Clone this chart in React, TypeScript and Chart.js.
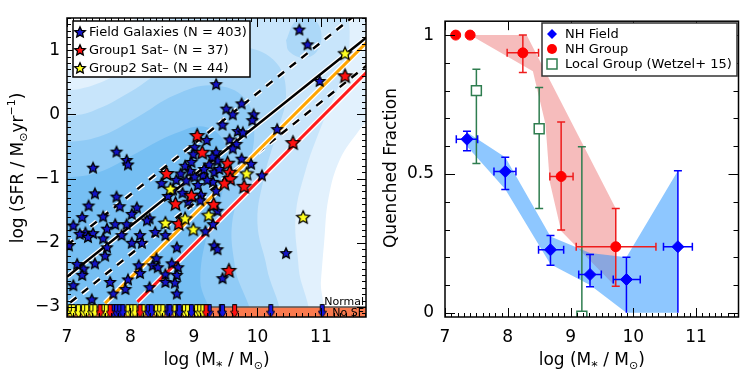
import React, { useEffect, useRef } from "react";
import { Chart, registerables } from "chart.js";
Chart.register(...registerables);

const FONT = "'DejaVu Sans', 'Liberation Sans', sans-serif";

// ---------------- Left panel data ----------------
const xTicksLeft = [7, 8, 9, 10, 11];
const yTicksLeft = [-3, -2, -1, 0, 1];

const fieldStars: number[][] = [
  [9.35, 0.47], [10.66, 1.32], [10.79, 1.09], [10.98, 0.52],
  [9.75, 0.17], [9.51, 0.09], [9.61, 0.0], [9.94, 0.0], [9.92, -0.09], [9.45, -0.16],
  [10.31, -0.23], [9.69, -0.26], [9.77, -0.28], [9.56, -0.39], [9.67, -0.46], [9.61, -0.53],
  [9.2, -0.4], [9.01, -0.51], [8.99, -0.62], [9.35, -0.59], [9.37, -0.72], [9.29, -0.66],
  [9.75, -0.69], [9.9, -0.77], [10.07, -0.95], [9.32, -0.9], [9.3, -1.05], [9.35, -1.19],
  [9.4, -0.85], [9.24, -0.78], [9.14, -0.95], [8.94, -0.88],
  [7.78, -0.58], [7.94, -0.71], [7.96, -0.78], [7.41, -0.83], [7.44, -1.23], [7.78, -1.28],
  [7.34, -1.42], [7.83, -1.43], [8.1, -1.45], [8.49, -1.07], [8.79, -0.92], [8.88, -1.03],
  [9.01, -0.97], [8.72, -1.02], [8.86, -0.8], [8.67, -1.17], [8.59, -1.27], [8.82, -1.22],
  [9.06, -1.1], [9.16, -0.85], [9.11, -1.25], [8.91, -1.36], [9.21, -1.02], [8.96, -0.74],
  [7.24, -1.6], [7.57, -1.59], [7.1, -1.73], [7.29, -1.84], [7.41, -1.85], [7.33, -1.91],
  [7.2, -1.86], [7.63, -1.78], [7.76, -1.71], [7.94, -1.71], [7.57, -1.93], [7.86, -1.88],
  [8.02, -1.55], [8.3, -1.62], [8.15, -1.88], [8.02, -2.0], [8.18, -2.0], [8.39, -1.83],
  [8.55, -1.88], [9.18, -1.82], [9.3, -1.71], [8.73, -2.07], [7.63, -2.07], [7.6, -2.2],
  [7.26, -2.4], [7.24, -2.5], [7.44, -2.32], [7.1, -2.66], [7.68, -2.61], [7.39, -2.88],
  [7.73, -2.79], [7.92, -2.72], [7.96, -2.57], [8.13, -2.35], [8.15, -2.47], [8.35, -2.35],
  [8.41, -2.24], [8.43, -2.38], [8.65, -2.32], [8.75, -2.38], [8.55, -2.49], [8.73, -2.5],
  [8.55, -2.61], [8.3, -2.69], [8.73, -2.79], [8.7, -2.62], [7.03, -2.04], [7.16, -2.33],
  [8.26, -1.65], [9.32, -2.04], [9.37, -2.1], [9.45, -2.55], [9.1, -1.34], [9.37, -1.5],
  [10.45, -2.16],
];
const group1Stars: number[][] = [
  [9.05, -0.33], [9.13, -0.59], [8.57, -0.92], [9.53, -0.76], [9.56, -0.9], [9.57, -1.0],
  [9.48, -1.07], [9.79, -1.12], [8.96, -1.26], [8.71, -1.39], [9.31, -1.4], [8.76, -1.7],
  [10.56, -0.44], [11.38, 0.6], [9.55, -2.43],
];
const group2Stars: number[][] = [
  [9.83, -0.92], [8.63, -1.16], [8.55, -1.69], [8.86, -1.62], [8.99, -1.79], [9.23, -1.57],
  [11.38, 0.95], [10.72, -1.6],
];
// galaxies with no star formation (upper limits drawn in the "No SF" strip)
const fieldNoSF = [7.73, 7.78, 7.83, 7.88, 8.28, 8.33, 8.59, 8.62, 8.75, 8.77, 8.96, 9.24, 9.43, 9.45, 10.21, 11.02];
const group1NoSF = [7.52, 7.68, 8.15, 9.19, 9.64];
const group2NoSF = [7.05, 7.1, 7.18, 7.26, 7.31, 7.39, 7.44, 7.57, 7.62, 7.96, 8.02, 8.07, 8.2, 8.41, 8.46, 8.51, 8.7, 8.85, 8.9, 9.04, 9.09, 9.14];
const noSFValue = -3.065;
const noSFBoundary = -3;

// fitted relations: [x start, y at start, slope]
const mainSequence = [7, -2.53, 0.79];
const msUpper = [7, -2.04, 0.79];
const msLower = [7.05, -2.93, 0.79];
const group2Fit = [7.6, -2.94, 0.985];
const group1Fit = [8.11, -2.92, 0.99];
const fitEnd = 11.8;

// density contours of the field sample (outer -> inner)
const kde1 = [[6.9, 0.75], [7.4, 0.85], [7.9, 1.15], [8.2, 1.6], [11.9, 1.6], [11.9, 0.15], [11.6, -0.25], [11.3, -0.7], [11.12, -1.3], [11.05, -2.0], [11.0, -2.6], [10.95, -3.2], [6.9, -3.2]];
const kde2 = [[6.9, 0.35], [7.4, 0.45], [7.9, 0.7], [8.4, 1.1], [8.8, 1.6], [11.3, 1.6], [11.45, 1.1], [11.3, 0.5], [11.0, -0.2], [10.75, -0.9], [10.6, -1.6], [10.65, -2.4], [10.7, -3.2], [6.9, -3.2]];
const kde3 = [[6.9, -0.05], [7.4, 0.05], [8.0, 0.35], [8.6, 0.75], [9.2, 1.0], [9.8, 1.05], [10.3, 0.8], [10.45, 0.3], [10.3, -0.3], [10.1, -1.0], [10.0, -1.7], [10.15, -2.4], [10.25, -3.2], [6.9, -3.2]];
const kde3b = [[10.45, 1.15], [10.6, 1.45], [10.85, 1.5], [11.0, 1.3], [10.95, 1.0], [10.75, 0.88], [10.5, 0.98]];
const kde4 = [[6.9, -0.45], [7.5, -0.35], [8.1, -0.05], [8.7, 0.3], [9.3, 0.45], [9.8, 0.25], [9.95, -0.3], [9.8, -1.0], [9.6, -1.7], [9.65, -2.4], [9.8, -3.2], [6.9, -3.2]];
const kde5 = [[6.9, -1.0], [7.5, -0.9], [8.1, -0.6], [8.7, -0.3], [9.2, -0.2], [9.5, -0.5], [9.45, -1.2], [9.2, -1.9], [9.1, -2.6], [9.2, -3.2], [6.9, -3.2]];
const kdeLevels = [kde1, kde2, kde3, kde3b, kde4, kde5];
const kdeColors = ["#e2f1fd", "#c8e5fb", "#acd8f8", "#acd8f8", "#90cbf6", "#76bff3"];
const noSFStrip = [[6.9, -3], [11.9, -3], [11.9, -3.4], [6.9, -3.4]];

// ---------------- Right panel data ----------------
const xTicksRight = [7, 8, 9, 10, 11];
const yTicksRight = [0, 0.5, 1];

const fieldX = [7.35, 7.96, 8.68, 9.31, 9.89, 10.71];
const fieldQ = [0.625, 0.509, 0.227, 0.138, 0.12, 0.238];
const fieldXLo = [7.18, 7.78, 8.49, 9.13, 9.68, 10.48];
const fieldXHi = [7.52, 8.13, 8.89, 9.49, 10.11, 10.94];
const fieldQLo = [0.584, 0.444, 0.171, 0.094, 0.0, 0.0];
const fieldQHi = [0.654, 0.56, 0.278, 0.21, 0.2, 0.512];

const groupX = [7.17, 7.4, 8.24, 8.85, 9.72];
const groupQ = [1.0, 1.0, 0.936, 0.491, 0.238];
const groupXLo = [null, null, 7.99, 8.67, 9.09];
const groupXHi = [null, null, 8.49, 9.04, 10.36];
const groupQLo = [null, null, 0.865, 0.298, 0.096];
const groupQHi = [null, null, 1.0, 0.687, 0.376];

const lgX = [7.5, 8.5, 9.18];
const lgQ = [0.8, 0.663, -0.012];
const lgQLo = [0.538, 0.376, 0.0];
const lgQHi = [0.877, 0.811, 0.598];

const fieldBandUpper = [[7.35, 0.65], [7.96, 0.56], [8.68, 0.275], [9.31, 0.215], [9.89, 0.2], [10.71, 0.512]];
const fieldBandLower = [[10.71, 0.0], [9.89, 0.0], [9.31, 0.1], [8.68, 0.175], [7.96, 0.445], [7.35, 0.6]];
const groupBandUpper = [[7.17, 1.0], [8.3, 1.0], [9.72, 0.376]];
const groupBandLower = [[9.72, 0.094], [8.85, 0.295], [8.67, 0.47], [8.6, 0.68], [8.4, 0.87], [7.4, 1.0], [7.17, 1.0]];

// ---------------- helpers ----------------
const pts = (a: number[][]) => a.map(([x, y]) => ({ x, y }));
const closed = (a: number[][]) => pts([...a, a[0]]);
const fitLine = (f: number[]) => [
  { x: f[0], y: f[1] },
  { x: fitEnd, y: f[1] + f[2] * (fitEnd - f[0]) },
];
const range = (a: number, b: number, step: number) => {
  const out: number[] = [];
  const n = Math.round((b - a) / step);
  for (let i = 0; i <= n; i++) out.push(Math.round((a + i * step) * 1000) / 1000);
  return out;
};
const fmtNum = (v: number) => (v < 0 ? "\u2212" + Math.abs(v) : String(v));

function starImage(fill: string, R: number) {
  const s = Math.ceil(R * 2 + 4);
  const c = document.createElement("canvas");
  c.width = s;
  c.height = s;
  const ctx = c.getContext("2d")!;
  const cx = s / 2, cy = s / 2 + R * 0.08;
  ctx.beginPath();
  for (let i = 0; i < 10; i++) {
    const r = i % 2 === 0 ? R : R * 0.47;
    const a = -Math.PI / 2 + (i * Math.PI) / 5;
    ctx.lineTo(cx + r * Math.cos(a), cy + r * Math.sin(a));
  }
  ctx.closePath();
  ctx.fillStyle = fill;
  ctx.fill();
  ctx.lineWidth = 1.3;
  ctx.strokeStyle = "#000";
  ctx.lineJoin = "miter";
  ctx.stroke();
  return c;
}
function arrowImage(fill: string) {
  const c = document.createElement("canvas");
  c.width = 9;
  c.height = 14;
  const ctx = c.getContext("2d")!;
  ctx.beginPath();
  ctx.moveTo(2.5, 0.5);
  ctx.lineTo(6.5, 0.5);
  ctx.lineTo(6.5, 7);
  ctx.lineTo(8.5, 7);
  ctx.lineTo(4.5, 13.5);
  ctx.lineTo(0.5, 7);
  ctx.lineTo(2.5, 7);
  ctx.closePath();
  ctx.fillStyle = fill;
  ctx.fill();
  ctx.lineWidth = 0.9;
  ctx.strokeStyle = "#000";
  ctx.stroke();
  return c;
}

type Part = { t: string; s: number; dy?: number };
function drawRich(ctx: CanvasRenderingContext2D, parts: Part[], cx: number, cy: number, rot: number) {
  ctx.save();
  ctx.translate(cx, cy);
  if (rot) ctx.rotate(rot);
  ctx.fillStyle = "#000";
  ctx.textBaseline = "alphabetic";
  ctx.textAlign = "left";
  let total = 0;
  const widths = parts.map((p) => {
    ctx.font = `${p.s}px ${FONT}`;
    const w = ctx.measureText(p.t).width;
    total += w;
    return w;
  });
  let x = -total / 2;
  parts.forEach((p, i) => {
    ctx.font = `${p.s}px ${FONT}`;
    ctx.fillText(p.t, x, p.dy || 0);
    x += widths[i];
  });
  ctx.restore();
}

type TickCfg = {
  xMajor: number[]; xMinor: number[]; yMajor: number[]; yMinor: number[];
  xMajLen: number; xMinLen: number; yMajLen: number; yMinLen: number; topMinor: boolean;
};
function drawTicks(chart: any, t: TickCfg) {
  const { ctx, chartArea: a, scales } = chart;
  const xs = scales.x, ys = scales.y;
  ctx.save();
  ctx.strokeStyle = "#000";
  ctx.lineWidth = 1;
  const seg = (x1: number, y1: number, x2: number, y2: number) => {
    ctx.beginPath();
    ctx.moveTo(x1, y1);
    ctx.lineTo(x2, y2);
    ctx.stroke();
  };
  const xt = (v: number, len: number, top: boolean) => {
    const p = Math.round(xs.getPixelForValue(v)) + 0.5;
    if (p < a.left || p > a.right) return;
    seg(p, a.bottom, p, a.bottom - len);
    if (top) seg(p, a.top, p, a.top + len);
  };
  const yt = (v: number, len: number) => {
    const p = Math.round(ys.getPixelForValue(v)) + 0.5;
    if (p < a.top || p > a.bottom) return;
    seg(a.left, p, a.left + len, p);
    seg(a.right, p, a.right - len, p);
  };
  t.xMinor.forEach((v) => xt(v, t.xMinLen, t.topMinor));
  t.xMajor.forEach((v) => xt(v, t.xMajLen, true));
  t.yMinor.forEach((v) => yt(v, t.yMinLen));
  t.yMajor.forEach((v) => yt(v, t.yMajLen));
  ctx.lineWidth = 1.5;
  ctx.strokeRect(a.left, a.top, a.right - a.left, a.bottom - a.top);
  ctx.restore();
}

function baseScale(min: number, max: number, ticks: number[], size: number, isX: boolean, pad: number) {
  return {
    type: "linear" as const,
    min,
    max,
    afterBuildTicks: (s: any) => {
      s.ticks = ticks.map((v) => ({ value: v }));
    },
    afterFit: (s: any) => {
      if (isX) s.height = size;
      else s.width = size;
    },
    grid: { display: false, drawTicks: false },
    border: { display: false },
    ticks: {
      color: "#000",
      font: { family: FONT, size: 17 },
      padding: pad,
      autoSkip: false,
      maxRotation: 0,
      callback: (v: any) => fmtNum(Number(v)),
    },
  };
}

export default function App() {
  const leftRef = useRef<HTMLCanvasElement>(null);
  const rightRef = useRef<HTMLCanvasElement>(null);

  useEffect(() => {
    const blueStar = starImage("#1414c8", 5.6);
    const redStar = starImage("#ff1010", 7.2);
    const yellowStar = starImage("#ffff20", 6.8);
    const legendRed = starImage("#ff1010", 5.6);
    const legendYellow = starImage("#ffff20", 5.6);
    const blueArrow = arrowImage("#1414e0");
    const redArrow = arrowImage("#ff1010");
    const yellowArrow = arrowImage("#ffff20");

    const lineDs = (data: any[], color: string, width: number, order: number, dash?: number[]) => ({
      type: "line" as const,
      data,
      showLine: true,
      borderColor: color,
      borderWidth: width,
      borderDash: dash || [],
      borderCapStyle: "butt" as const,
      pointRadius: 0,
      fill: false,
      order,
    });

    const fits: [number[], string, number, number[] | undefined][] = [
      [mainSequence, "#000", 2.4, undefined],
      [msUpper, "#000", 2.4, [8, 7]],
      [msLower, "#000", 2.4, [8, 7]],
      [group2Fit, "#ffa500", 3, undefined],
      [group1Fit, "#ff1a1a", 3, undefined],
    ];

    const leftDatasets: any[] = [
      ...kdeLevels.map((poly, i) => ({
        type: "line",
        data: closed(poly),
        showLine: true,
        fill: "shape",
        backgroundColor: kdeColors[i],
        borderWidth: 0,
        borderColor: "rgba(0,0,0,0)",
        pointRadius: 0,
        tension: 0.4,
        clip: 0,
        order: 100 - i,
      })),
      {
        type: "line",
        data: closed(noSFStrip),
        showLine: true,
        fill: "shape",
        backgroundColor: "rgb(250,122,78)",
        borderWidth: 0,
        pointRadius: 0,
        clip: 0,
        order: 90,
      },
      lineDs(pts([[7, noSFBoundary], [fitEnd, noSFBoundary]]), "#555", 1.5, 89),
      ...fits.map(([f, , w, dash], i) => lineDs(fitLine(f), "#fff", w + 2.6, 60 - i * 2, dash)),
      ...fits.map(([f, c, w, dash], i) => lineDs(fitLine(f), c, w, 59 - i * 2, dash)),
      { type: "scatter", data: pts(fieldStars), pointStyle: blueStar, pointRadius: 5, order: 12 },
      { type: "scatter", data: pts(group1Stars), pointStyle: redStar, pointRadius: 6, order: 11 },
      { type: "scatter", data: pts(group2Stars), pointStyle: yellowStar, pointRadius: 6, order: 10 },
      { type: "scatter", data: group2NoSF.map((x) => ({ x, y: noSFValue })), pointStyle: yellowArrow, pointRadius: 5, order: 7 },
      { type: "scatter", data: fieldNoSF.map((x) => ({ x, y: noSFValue })), pointStyle: blueArrow, pointRadius: 5, order: 6 },
      { type: "scatter", data: group1NoSF.map((x) => ({ x, y: noSFValue })), pointStyle: redArrow, pointRadius: 5, order: 5 },
    ];

    const leftPlugin = {
      id: "leftDecor",
      afterDatasetsDraw(chart: any) {
        const { ctx, chartArea: a, scales } = chart;
        const yb = scales.y.getPixelForValue(noSFBoundary);
        ctx.save();
        ctx.font = `11px ${FONT}`;
        ctx.fillStyle = "#000";
        ctx.textAlign = "right";
        ctx.textBaseline = "alphabetic";
        ctx.fillText("Normal", a.right - 2, yb - 2);
        ctx.fillText("No SF", a.right - 2, yb + 9);
        ctx.restore();
        drawTicks(chart, {
          xMajor: xTicksLeft, xMinor: range(7, 11.7, 0.1), yMajor: yTicksLeft, yMinor: range(-3.1, 1.5, 0.1),
          xMajLen: 9, xMinLen: 4, yMajLen: 9, yMinLen: 4, topMinor: true,
        });
        // legend
        ctx.save();
        ctx.fillStyle = "#fff";
        ctx.fillRect(73, 21, 177, 56);
        ctx.strokeStyle = "#000";
        ctx.lineWidth = 1.5;
        ctx.strokeRect(73, 21, 177, 56);
        const rows: [HTMLCanvasElement, string, number][] = [
          [blueStar, "Field Galaxies (N = 403)", 32],
          [legendRed, "Group1 Sat\u2013 (N = 37)", 50],
          [legendYellow, "Group2 Sat\u2013 (N = 44)", 68],
        ];
        ctx.font = `13px ${FONT}`;
        ctx.fillStyle = "#000";
        ctx.textBaseline = "middle";
        rows.forEach(([im, txt, yy]) => {
          ctx.drawImage(im, 80 - im.width / 2, yy - im.height / 2);
          ctx.fillText(txt, 89, yy + 1);
        });
        ctx.restore();
      },
      afterDraw(chart: any) {
        const { ctx, chartArea: a } = chart;
        drawRich(ctx, [{ t: "log (M", s: 17 }, { t: "*", s: 13, dy: 5 }, { t: " / M", s: 17 }, { t: "\u2299", s: 11, dy: 4 }, { t: ")", s: 17 }], (a.left + a.right) / 2, 365, 0);
        drawRich(ctx, [{ t: "log (SFR / M", s: 17 }, { t: "\u2299", s: 11, dy: 4 }, { t: "yr", s: 17 }, { t: "\u22121", s: 11, dy: -8 }, { t: ")", s: 17 }], 23, 168, -Math.PI / 2);
      },
    };

    const c1 = new Chart(leftRef.current!, {
      type: "scatter",
      data: { datasets: leftDatasets },
      options: {
        responsive: false,
        animation: false,
        devicePixelRatio: 1,
        events: [],
        layout: { padding: { left: 0, right: 6, top: 18, bottom: 0 } },
        plugins: { legend: { display: false }, tooltip: { enabled: false } },
        scales: {
          x: baseScale(7, 11.71, xTicksLeft, 57, true, 10),
          y: baseScale(-3.155, 1.5, yTicksLeft, 67, false, 7),
        },
      } as any,
      plugins: [leftPlugin],
    });

    // ---------------- right chart ----------------
    const blue = "#0000ff", red = "#ff0000", green = "#2e7d4f";
    const rightDatasets: any[] = [
      {
        type: "line", label: "groupBand", data: closed([...groupBandUpper, ...groupBandLower]), showLine: true,
        fill: "shape", backgroundColor: "rgba(232,80,80,0.38)", borderWidth: 0, pointRadius: 0, clip: 0, order: 21,
      },
      {
        type: "line", label: "fieldBand", data: closed([...fieldBandUpper, ...fieldBandLower]), showLine: true,
        fill: "shape", backgroundColor: "rgba(30,144,255,0.5)", borderWidth: 0, pointRadius: 0, clip: 0, order: 20,
      },
      {
        type: "scatter", label: "Local Group (Wetzel+ 15)", data: lgX.map((x, i) => ({ x, y: lgQ[i] })),
        pointStyle: "rect", pointRadius: 7, backgroundColor: "#fff", borderColor: green, borderWidth: 1.5, clip: 0, order: 3,
      },
      {
        type: "scatter", label: "NH Group", data: groupX.map((x, i) => ({ x, y: groupQ[i] })),
        pointStyle: "circle", pointRadius: 5, backgroundColor: red, borderColor: red, borderWidth: 1, order: 2,
      },
      {
        type: "scatter", label: "NH Field", data: fieldX.map((x, i) => ({ x, y: fieldQ[i] })),
        pointStyle: "rectRot", pointRadius: 6, backgroundColor: blue, borderColor: blue, borderWidth: 1, order: 1,
      },
    ];

    const errBars = (chart: any, xs: number[], ys: number[], xlo: (number | null)[] | null, xhi: (number | null)[] | null,
      ylo: (number | null)[], yhi: (number | null)[], color: string) => {
      const { ctx, chartArea: a, scales } = chart;
      const X = scales.x, Y = scales.y;
      const cap = 4;
      ctx.save();
      ctx.beginPath();
      ctx.rect(a.left, a.top, a.right - a.left, a.bottom - a.top);
      ctx.clip();
      ctx.strokeStyle = color;
      ctx.lineWidth = 1.5;
      const seg = (x1: number, y1: number, x2: number, y2: number) => {
        ctx.beginPath();
        ctx.moveTo(x1, y1);
        ctx.lineTo(x2, y2);
        ctx.stroke();
      };
      xs.forEach((xv, i) => {
        const px = X.getPixelForValue(xv), py = Y.getPixelForValue(ys[i]);
        const lo = ylo[i], hi = yhi[i];
        if (lo != null && hi != null) {
          const p1 = Y.getPixelForValue(lo), p2 = Y.getPixelForValue(hi);
          seg(px, p1, px, p2);
          if (lo > 0) seg(px - cap, p1, px + cap, p1);
          seg(px - cap, p2, px + cap, p2);
        }
        if (xlo && xhi && xlo[i] != null && xhi[i] != null) {
          const q1 = X.getPixelForValue(xlo[i]), q2 = X.getPixelForValue(xhi[i]);
          seg(q1, py, q2, py);
          seg(q1, py - cap, q1, py + cap);
          seg(q2, py - cap, q2, py + cap);
        }
      });
      ctx.restore();
    };

    const rightPlugin = {
      id: "rightDecor",
      afterDatasetDraw(chart: any, args: any) {
        const ds = chart.data.datasets[args.index];
        if (ds.label !== "fieldBand") return;
        errBars(chart, lgX, lgQ, null, null, lgQLo, lgQHi, green);
        errBars(chart, groupX, groupQ, groupXLo, groupXHi, groupQLo, groupQHi, "#ee1c1c");
        errBars(chart, fieldX, fieldQ, fieldXLo, fieldXHi, fieldQLo, fieldQHi, blue);
      },
      afterDatasetsDraw(chart: any) {
        const { ctx } = chart;
        drawTicks(chart, {
          xMajor: xTicksRight, xMinor: range(7, 11.6, 0.1), yMajor: yTicksRight, yMinor: range(0, 1, 0.1),
          xMajLen: 9, xMinLen: 4, yMajLen: 10, yMinLen: 5, topMinor: false,
        });
        ctx.save();
        ctx.fillStyle = "#fff";
        ctx.fillRect(169, 23, 195, 53);
        ctx.strokeStyle = "#333";
        ctx.lineWidth = 1.5;
        ctx.strokeRect(169, 23, 195, 53);
        ctx.fillStyle = blue;
        ctx.beginPath();
        ctx.moveTo(179, 29); ctx.lineTo(184, 34); ctx.lineTo(179, 39); ctx.lineTo(174, 34);
        ctx.closePath();
        ctx.fill();
        ctx.fillStyle = red;
        ctx.beginPath();
        ctx.arc(179, 49, 5, 0, Math.PI * 2);
        ctx.fill();
        ctx.strokeStyle = green;
        ctx.lineWidth = 1.5;
        ctx.strokeRect(174, 59, 10, 10);
        ctx.fillStyle = "#000";
        ctx.font = `13px ${FONT}`;
        ctx.textBaseline = "middle";
        ctx.fillText("NH Field", 192, 35);
        ctx.fillText("NH Group", 192, 50);
        ctx.fillText("Local Group (Wetzel+ 15)", 192, 65);
        ctx.restore();
      },
      afterDraw(chart: any) {
        const { ctx, chartArea: a } = chart;
        drawRich(ctx, [{ t: "log (M", s: 17 }, { t: "*", s: 13, dy: 5 }, { t: " / M", s: 17 }, { t: "\u2299", s: 11, dy: 4 }, { t: ")", s: 17 }], (a.left + a.right) / 2, 365, 0);
        drawRich(ctx, [{ t: "Quenched Fraction", s: 17 }], 23, 168, -Math.PI / 2);
      },
    };

    const c2 = new Chart(rightRef.current!, {
      type: "scatter",
      data: { datasets: rightDatasets },
      options: {
        responsive: false,
        animation: false,
        devicePixelRatio: 1,
        events: [],
        layout: { padding: { left: 0, right: 4, top: 18, bottom: 0 } },
        plugins: { legend: { display: false }, tooltip: { enabled: false } },
        scales: {
          x: baseScale(7, 11.675, xTicksRight, 57, true, 10),
          y: baseScale(-0.015, 1.05, yTicksRight, 72, false, 11),
        },
      } as any,
      plugins: [rightPlugin],
    });

    return () => {
      c1.destroy();
      c2.destroy();
    };
  }, []);

  return (
    <div style={{ position: "fixed", left: 0, top: 0, width: 747, height: 374, background: "#fff" }}>
      <canvas ref={leftRef} width={373} height={374} style={{ position: "absolute", left: 0, top: 0, width: 373, height: 374 }} />
      <canvas ref={rightRef} width={374} height={374} style={{ position: "absolute", left: 373, top: 0, width: 374, height: 374 }} />
    </div>
  );
}
